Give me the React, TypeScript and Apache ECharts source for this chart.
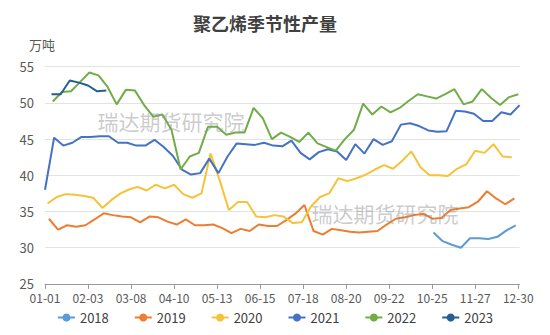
import React, { useEffect, useRef } from "react";
import * as echarts from "echarts";

// ---- data ----
const TITLE = "聚乙烯季节性产量";
const UNIT = "万吨";
const WATERMARK = "瑞达期货研究院";
const YEARS = ["2018", "2019", "2020", "2021", "2022", "2023"];
const COLORS = ["#5B9BD5", "#ED7D31", "#F5C238", "#4472C4", "#70AD47", "#255E91"];

// first weekly (Friday) date of each year's series
const START_2018 = "2018-10-26";
const START_2019 = "2019-01-04";
const START_2020 = "2020-01-03";
const START_2021 = "2021-01-01";
const START_2022 = "2022-01-07";
const START_2023 = "2023-01-06";

const V2018 = [32.1, 30.9, 30.4, 30.0, 31.3, 31.3, 31.2, 31.5, 32.4, 33.1];
const V2019 = [
  34.0, 32.5, 33.1, 32.9, 33.1, 33.9, 34.75, 34.5, 34.3, 34.2, 33.5, 34.3, 34.2,
  33.6, 33.2, 33.9, 33.1, 33.1, 33.2, 32.7, 32.0, 32.6, 32.3, 33.2, 33.0, 33.0,
  33.8, 34.7, 35.9, 32.3, 31.8, 32.6, 32.4, 32.2, 32.1, 32.2, 32.3, 33.2, 34.0,
  34.2, 34.5, 34.7, 34.0, 34.1, 35.2, 35.4, 35.6, 36.35, 37.8, 36.8, 36.0, 36.8,
];
const V2020 = [
  36.1, 37.0, 37.4, 37.3, 37.15, 36.9, 35.5, 36.6, 37.5, 38.0, 38.4, 37.9, 38.7,
  38.2, 38.7, 37.4, 36.9, 37.5, 43.0, 39.3, 35.2, 36.3, 36.3, 34.3, 34.2, 34.5,
  34.3, 33.4, 33.5, 35.7, 37.0, 37.5, 39.6, 39.2, 39.6, 40.1, 40.8, 41.4, 40.9,
  42.0, 43.3, 41.1, 40.0, 40.0, 39.9, 40.9, 41.5, 43.4, 43.1, 44.3, 42.6, 42.5,
];
const V2021 = [
  38.0, 45.2, 44.1, 44.5, 45.3, 45.3, 45.4, 45.4, 44.5, 44.5, 44.1, 44.1, 44.9,
  43.9, 42.7, 40.8, 40.1, 40.3, 42.3, 40.3, 42.6, 44.4, 44.3, 44.2, 44.5, 44.1,
  44.0, 44.8, 43.1, 42.2, 43.2, 43.6, 43.3, 42.1, 44.3, 43.0, 45.0, 44.2, 44.7,
  47.0, 47.2, 46.8, 46.2, 46.0, 46.1, 48.9, 48.8, 48.5, 47.5, 47.5, 48.7, 48.4,
  49.7,
];
const V2022 = [
  50.2, 51.5, 51.6, 52.9, 54.2, 53.8, 52.2, 49.8, 51.8, 51.7, 49.7, 48.1, 48.4,
  46.3, 40.8, 42.6, 43.1, 46.7, 46.7, 45.6, 45.9, 45.9, 49.3, 47.9, 45.0, 45.9,
  45.3, 44.6, 45.9, 44.4, 43.9, 43.4, 45.0, 46.3, 49.9, 48.4, 49.5, 48.7, 49.3,
  50.3, 51.2, 50.9, 50.6, 51.2, 51.9, 49.8, 50.2, 51.9, 50.7, 49.7, 50.8, 51.2,
];
const V2023 = [51.2, 51.2, 53.1, 52.8, 52.4, 51.6, 51.7];

const Y_MIN = 25;
const Y_MAX = 55;
const Y_STEP = 5;

// ---- helpers ----
const pad = (n: number) => (n < 10 ? "0" + n : "" + n);
const mmdd = (d: Date) => pad(d.getUTCMonth() + 1) + "-" + pad(d.getUTCDate());

// day-of-year categories (non-leap year): 01-01 ... 12-31
const CATEGORIES: string[] = [];
for (let i = 0; i < 365; i++) {
  CATEGORIES.push(mmdd(new Date(Date.UTC(2019, 0, 1 + i))));
}

function weekly(start: string, values: number[]) {
  const [y, m, d] = start.split("-").map(Number);
  return values.map((v, i) => {
    const key = mmdd(new Date(Date.UTC(y, m - 1, d + 7 * i)));
    return [CATEGORIES.indexOf(key), v];
  });
}

const SERIES_DATA = [
  weekly(START_2018, V2018),
  weekly(START_2019, V2019),
  weekly(START_2020, V2020),
  weekly(START_2021, V2021),
  weekly(START_2022, V2022),
  weekly(START_2023, V2023),
];

const FONT = "'Noto Sans CJK SC', 'Noto Sans', sans-serif";

export default function App() {
  const ref = useRef<HTMLDivElement>(null);
  useEffect(() => {
    if (!ref.current) return;
    const chart = echarts.init(ref.current, undefined, { renderer: "svg" });
    chart.setOption({
      animation: false,
      backgroundColor: "#ffffff",
      textStyle: { fontFamily: FONT },
      title: {
        text: TITLE,
        left: 188,
        top: 9,
        textStyle: { fontSize: 18, fontWeight: "bold", color: "#404040", fontFamily: FONT },
      },
      graphic: [
        {
          type: "text",
          x: 42,
          y: 44,
          style: {
            text: UNIT,
            fill: "#595959",
            font: `13px ${FONT}`,
            textAlign: "center",
            textVerticalAlign: "middle",
          },
        },
        {
          type: "text",
          x: 171,
          y: 121,
          z: 10,
          style: {
            text: WATERMARK,
            fill: "rgba(140,140,140,0.45)",
            font: `21px ${FONT}`,
            textAlign: "center",
            textVerticalAlign: "middle",
          },
        },
        {
          type: "text",
          x: 385,
          y: 213,
          z: 10,
          style: {
            text: WATERMARK,
            fill: "rgba(140,140,140,0.45)",
            font: `21px ${FONT}`,
            textAlign: "center",
            textVerticalAlign: "middle",
          },
        },
      ],
      legend: {
        bottom: 6,
        left: "center",
        itemWidth: 17,
        itemHeight: 10,
        itemGap: 25,
        textStyle: { fontSize: 13, color: "#404040", fontFamily: FONT },
        data: YEARS,
      },
      grid: { left: 45, right: 30.4, top: 66.7, bottom: 51.1, containLabel: false },
      xAxis: {
        type: "category",
        data: CATEGORIES,
        boundaryGap: false,
        axisLine: { lineStyle: { color: "#999999", width: 1 } },
        axisTick: { interval: 32, length: 5, lineStyle: { color: "#999999" } },
        axisLabel: { interval: 32, fontSize: 12, color: "#595959", margin: 8, fontFamily: FONT },
        splitLine: { show: false },
      },
      yAxis: {
        type: "value",
        min: Y_MIN,
        max: Y_MAX,
        interval: Y_STEP,
        axisLine: { show: false },
        axisTick: { show: false },
        axisLabel: { fontSize: 13, color: "#595959", margin: 11, fontFamily: FONT },
        splitLine: { lineStyle: { color: "#e3e3e3", width: 1 } },
      },
      series: YEARS.map((name, i) => ({
        name,
        type: "line",
        data: SERIES_DATA[i],
        showSymbol: false,
        symbol: "circle",
        symbolSize: 8,
        color: COLORS[i],
        itemStyle: { color: COLORS[i] },
        lineStyle: { color: COLORS[i], width: 2 },
      })),
    });
    return () => chart.dispose();
  }, []);
  return (
    <div
      ref={ref}
      style={{ position: "fixed", left: 0, top: 0, width: 550, height: 335, background: "#fff" }}
    />
  );
}
